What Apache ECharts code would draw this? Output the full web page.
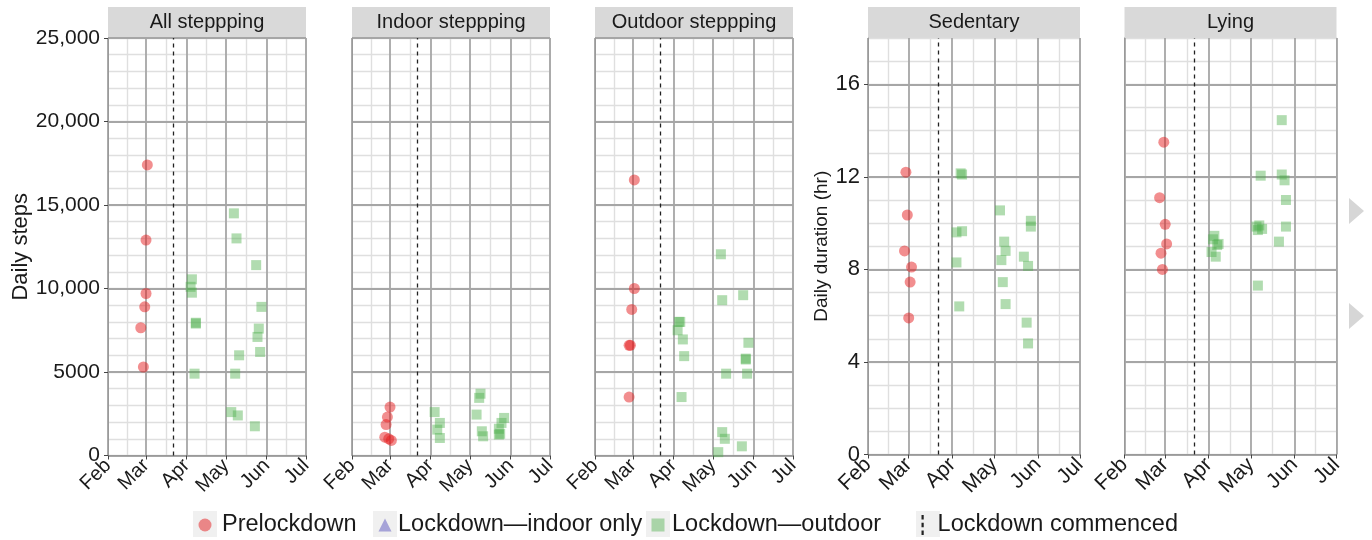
<!DOCTYPE html>
<html><head><meta charset="utf-8">
<script src="https://cdn.jsdelivr.net/npm/echarts@6/dist/echarts.min.js"></script>
<style>html,body{margin:0;padding:0;background:#fff}#c{width:1372px;height:540px}</style>
</head><body><div id="c"></div>
<script>
// ---------- axis ticks / labels ----------
const monthTicks = ['2020-02-01','2020-03-01','2020-04-01','2020-05-01','2020-06-01','2020-07-01'];
const monthLabels = ['Feb','Mar','Apr','May','Jun','Jul'];
const lockdownDate = '2020-03-22';
const stepTicks = [0,5000,10000,15000,20000,25000];
const stepTickLabels = ['0','5000','10,000','15,000','20,000','25,000'];
const hourTicks = [0,4,8,12,16];
const hourTickLabels = ['0','4','8','12','16'];
const panelTitles = ['All steppping','Indoor steppping','Outdoor steppping','Sedentary','Lying'];

// ---------- All stepping ----------
const allPreDates  = ['2020-03-02','2020-03-01','2020-03-01','2020-02-29','2020-02-26','2020-02-28'];
const allPreSteps  = [17400,12900,9700,8900,7650,5300];
const allOutDates  = ['2020-05-07','2020-05-09','2020-05-24','2020-04-05','2020-04-04','2020-04-05','2020-05-28','2020-04-08','2020-04-08','2020-05-26','2020-05-25','2020-05-27','2020-05-11','2020-04-07','2020-05-08','2020-05-05','2020-05-10','2020-05-23'];
const allOutSteps  = [14500,13000,11400,10550,10100,9750,8900,7950,7900,7600,7100,6200,6000,4900,4900,2600,2400,1750];

// ---------- Indoor stepping ----------
const inPreDates   = ['2020-03-01','2020-02-28','2020-02-27','2020-02-26','2020-02-29','2020-03-02'];
const inPreSteps   = [2900,2300,1850,1100,1000,900];
const inOutDates   = ['2020-05-09','2020-05-08','2020-04-04','2020-05-06','2020-04-08','2020-05-27','2020-05-25','2020-04-06','2020-05-23','2020-05-10','2020-04-08','2020-05-11','2020-05-24','2020-05-23'];
const inOutSteps   = [3700,3450,2600,2450,1950,2250,1950,1550,1600,1450,1050,1150,1300,1250];

// ---------- Outdoor stepping ----------
const outPreDates  = ['2020-03-02','2020-03-02','2020-02-29','2020-02-27','2020-02-28','2020-02-27'];
const outPreSteps  = [16500,10000,8750,6600,6600,3500];
const outOutDates  = ['2020-05-07','2020-05-24','2020-05-08','2020-04-05','2020-04-06','2020-04-04','2020-04-08','2020-05-28','2020-04-09','2020-05-26','2020-05-26','2020-05-11','2020-05-27','2020-04-07','2020-05-08','2020-05-10','2020-05-23','2020-05-05'];
const outOutSteps  = [12050,9600,9300,8000,8000,7500,6950,6750,5950,5800,5750,4900,4900,3500,1400,1000,550,200];

// ---------- Sedentary ----------
const sedPreDates  = ['2020-02-28','2020-02-29','2020-02-27','2020-03-03','2020-03-02','2020-03-01'];
const sedPreHours  = [12.2,10.35,8.8,8.1,7.45,5.9];
const sedOutDates  = ['2020-04-07','2020-04-08','2020-05-05','2020-05-27','2020-05-27','2020-04-04','2020-04-08','2020-05-08','2020-05-09','2020-05-06','2020-05-22','2020-05-25','2020-04-04','2020-05-07','2020-05-09','2020-04-06','2020-05-24','2020-05-25'];
const sedOutHours  = [12.15,12.1,10.55,10.1,9.85,9.6,9.65,9.2,8.8,8.4,8.55,8.15,8.3,7.45,6.5,6.4,5.7,4.8];

// ---------- Lying ----------
const lyPreDates   = ['2020-02-29','2020-02-26','2020-03-01','2020-03-02','2020-02-27','2020-02-28'];
const lyPreHours   = [13.5,11.1,9.95,9.1,8.7,8.0];
const lyOutDates   = ['2020-05-23','2020-05-08','2020-05-23','2020-05-25','2020-05-26','2020-05-05','2020-05-07','2020-05-09','2020-05-06','2020-05-26','2020-05-21','2020-05-06','2020-04-05','2020-04-08','2020-04-07','2020-04-03','2020-04-06','2020-04-04'];
const lyOutHours   = [14.45,12.05,12.1,11.85,11.0,9.85,9.9,9.75,9.7,9.85,9.2,7.3,9.45,9.1,9.05,8.75,8.55,9.3];

// ---------- build ----------
const FONT = '"Liberation Sans", Arial, sans-serif';
const ms = d => Date.parse(d);
const monthMs = monthTicks.map(ms);
const midMonthMs = monthMs.slice(0, -1).map((v, i) => (v + monthMs[i + 1]) / 2);
const T0 = monthMs[0], T1 = monthMs[monthMs.length - 1];
const zip = (ds, vs) => ds.map((d, i) => [ms(d), vs[i]]);

const panels = [
  {title: panelTitles[0], pre: zip(allPreDates, allPreSteps), out: zip(allOutDates, allOutSteps), kind: 'steps', first: true},
  {title: panelTitles[1], pre: zip(inPreDates, inPreSteps),   out: zip(inOutDates, inOutSteps),   kind: 'steps'},
  {title: panelTitles[2], pre: zip(outPreDates, outPreSteps), out: zip(outOutDates, outOutSteps), kind: 'steps'},
  {title: panelTitles[3], pre: zip(sedPreDates, sedPreHours), out: zip(sedOutDates, sedOutHours), kind: 'hours', first: true},
  {title: panelTitles[4], pre: zip(lyPreDates, lyPreHours),   out: zip(lyOutDates, lyOutHours),   kind: 'hours'}
];
const layout = [
  {left: 108, width: 198, top: 38, height: 417.5, fs: 1},
  {left: 352, width: 198, top: 38, height: 417.5, fs: 1},
  {left: 595, width: 198, top: 38, height: 417.5, fs: 1},
  {left: 868, width: 212, top: 38, height: 416.5, fs: 1.05},
  {left: 1124.5, width: 212, top: 38, height: 416.5, fs: 1.05}
];

const MAJOR = '#a6a6a6', MINOR = '#dfdfdf';
const grids = [], xAxes = [], yAxes = [], series = [], graphics = [];

panels.forEach((p, i) => {
  const L = layout[i];
  grids.push({left: L.left, top: L.top, width: L.width, height: L.height, show: true, borderColor: '#b3b3b3', borderWidth: 1, backgroundColor: '#fff'});
  xAxes.push({
    type: 'value', gridIndex: i, min: T0, max: T1, position: 'bottom', z: 1,
    axisLine: {show: true, onZero: false, lineStyle: {color: '#9a9a9a', width: 1}},
    axisTick: {show: true, customValues: monthMs, length: 4, lineStyle: {color: '#444'}},
    axisLabel: {show: true, customValues: monthMs, rotate: 45, margin: 7,
      fontSize: Math.round(20 * L.fs), color: '#1a1a1a', fontFamily: FONT,
      formatter: v => { const k = monthMs.findIndex(m => Math.abs(m - v) < 1e6); return k >= 0 ? monthLabels[k] : ''; }},
    splitLine: {show: true, lineStyle: {color: MAJOR, width: 1.8}}
  });
  xAxes.push({
    type: 'value', gridIndex: i, min: T0, max: T1, position: 'top', z: 0,
    axisLine: {show: false}, axisTick: {show: false, customValues: midMonthMs},
    axisLabel: {show: false, customValues: midMonthMs},
    splitLine: {show: true, lineStyle: {color: MINOR, width: 1.4}}
  });
  const isSteps = p.kind === 'steps';
  const ticks = isSteps ? stepTicks : hourTicks;
  const tickLabels = isSteps ? stepTickLabels : hourTickLabels;
  const yMax = isSteps ? 25000 : 18;
  yAxes.push({
    type: 'value', gridIndex: i, min: 0, max: yMax, z: 1,
    axisLine: {show: true, onZero: false, lineStyle: {color: '#9a9a9a', width: 1}},
    axisTick: {show: !!p.first, customValues: ticks, length: 4, lineStyle: {color: '#444'}},
    axisLabel: {show: !!p.first, customValues: ticks, margin: 8,
      fontSize: isSteps ? 21 : 22, color: '#1a1a1a', fontFamily: FONT,
      formatter: v => { const k = ticks.indexOf(v); return k >= 0 ? tickLabels[k] : ''; }},
    splitLine: {show: true, lineStyle: {color: MAJOR, width: 1.8}},
    name: p.first ? (isSteps ? 'Daily steps' : 'Daily duration (hr)') : '',
    nameLocation: 'middle', nameGap: isSteps ? 76 : 36,
    nameTextStyle: {fontSize: isSteps ? 22 : 19, color: '#1a1a1a', fontFamily: FONT}
  });
  yAxes.push({
    type: 'value', gridIndex: i, min: 0, max: yMax, interval: isSteps ? 1000 : 1, z: 0, position: 'right',
    axisLine: {show: false}, axisTick: {show: false}, axisLabel: {show: false},
    splitLine: {show: true, lineStyle: {color: MINOR, width: 1.4}}
  });
  series.push({
    type: 'scatter', name: 'Prelockdown', xAxisIndex: 2 * i, yAxisIndex: 2 * i, z: 3,
    data: p.pre, symbol: 'circle', symbolSize: 11,
    itemStyle: {color: 'rgba(228,26,28,0.62)'}
  });
  series.push({
    type: 'scatter', name: 'Lockdown—outdoor', xAxisIndex: 2 * i, yAxisIndex: 2 * i, z: 3,
    data: p.out, symbol: 'rect', symbolSize: 10,
    itemStyle: {color: 'rgba(77,175,74,0.55)'}
  });
  if (i === 0) {
    series.push({
      type: 'scatter', name: 'Lockdown—indoor only', xAxisIndex: 0, yAxisIndex: 0,
      data: [], symbol: 'triangle', symbolSize: 10, itemStyle: {color: 'rgba(117,112,200,0.75)'}
    });
  }
  series.push({
    type: 'line', name: 'Lockdown commenced', xAxisIndex: 2 * i, yAxisIndex: 2 * i, data: [],
    color: '#222', z: 2,
    markLine: {silent: true, symbol: 'none', label: {show: false}, animation: false,
      lineStyle: {color: '#222', type: [4, 4], width: 1.3},
      data: [{xAxis: ms(lockdownDate)}]}
  });
  graphics.push({type: 'rect', shape: {x: L.left, y: 7, width: L.width, height: 31}, style: {fill: '#d9d9d9'}, silent: true});
  graphics.push({type: 'text', x: L.left + L.width / 2, y: 22.5, silent: true,
    style: {text: p.title, fill: '#1a1a1a', fontSize: 20, fontFamily: FONT, align: 'center', verticalAlign: 'middle'}});
});

// legend layout: icon centre x and extra gap before the text
const legendCentres = [205, 385, 658, 928];
const legendTextGap = [5.5, 1.5, 2.5, 3.5];
legendCentres.forEach(cx => {
  graphics.push({type: 'rect', shape: {x: cx - 12, y: 511, width: 24, height: 26}, style: {fill: '#f0f0f0'}, silent: true, z: -1});
});
// decorative side arrows present in the source image
graphics.push({type: 'polygon', shape: {points: [[1349, 198], [1364, 211], [1349, 224]]}, style: {fill: '#d6d6d6'}, silent: true});
graphics.push({type: 'polygon', shape: {points: [[1349, 303], [1364, 316], [1349, 329]]}, style: {fill: '#d6d6d6'}, silent: true});

const legendItems = [
  {name: 'Prelockdown', icon: 'circle'},
  {name: 'Lockdown—indoor only', icon: 'triangle'},
  {name: 'Lockdown—outdoor', icon: 'rect'},
  {name: 'Lockdown commenced', icon: 'path://M0,0h2v4h-2z M0,7h2v4h-2z M0,14h2v4h-2z', itemStyle: {color: '#222'}}
];
const legends = legendItems.map((it, k) => ({
  left: legendCentres[k] - 6.5, top: 513, data: [it],
  itemWidth: 13, itemHeight: k === 3 ? 20 : 13, itemGap: 0, selectedMode: false, padding: 0,
  textStyle: {fontSize: 23.5, color: '#1a1a1a', fontFamily: FONT, padding: [0, 0, 0, legendTextGap[k]]}
}));

const chart = echarts.init(document.getElementById('c'), null, {renderer: 'canvas'});
chart.setOption({
  animation: false,
  backgroundColor: '#fff',
  textStyle: {fontFamily: FONT},
  grid: grids, xAxis: xAxes, yAxis: yAxes, series: series,
  legend: legends, graphic: graphics
});
</script></body></html>
